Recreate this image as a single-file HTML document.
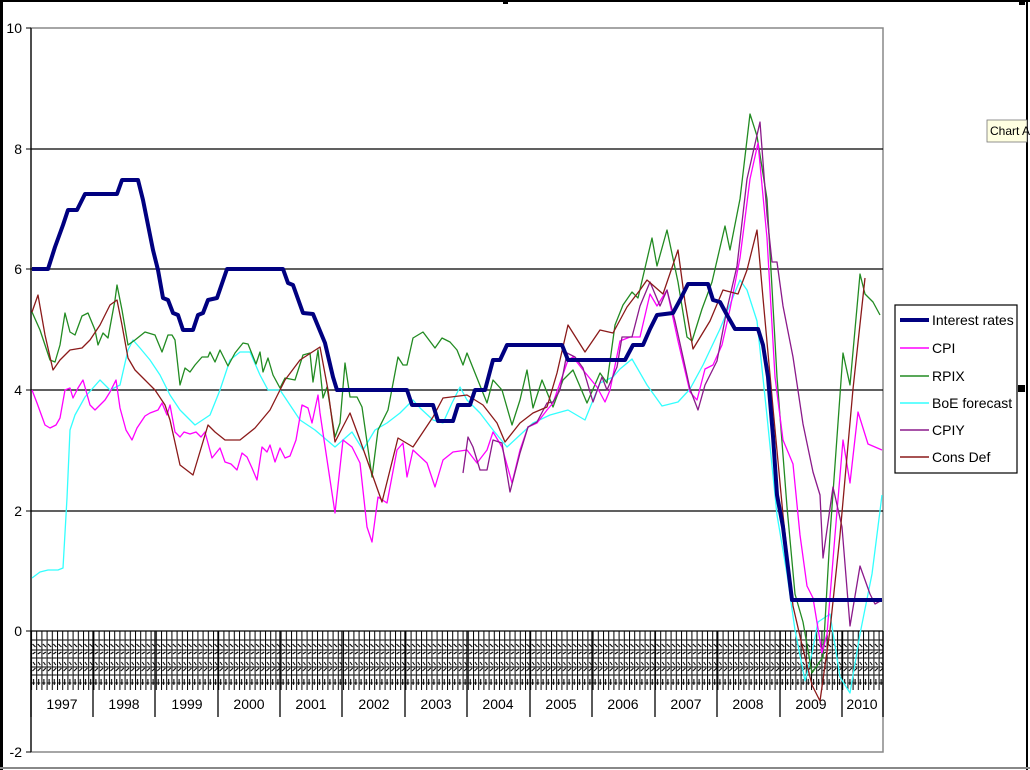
<!DOCTYPE html>
<html><head><meta charset="utf-8"><style>
html,body{margin:0;padding:0;background:#fff}
svg{display:block;font-family:"Liberation Sans",Arial,sans-serif}
</style></head><body>
<svg width="1030" height="770" viewBox="0 0 1030 770" xmlns="http://www.w3.org/2000/svg">
<defs>
<pattern id="tk" x="31" y="0" width="5.2" height="770" patternUnits="userSpaceOnUse">
<line x1="0.5" y1="631" x2="0.5" y2="690" stroke="#000" stroke-width="1"/>
<path d="M1 640 h4 M1.5 644 l3 3 M1 650 h4 M1.5 654 l3 -2 M1 658 h4 M2 662 l2 3 M1 667 h4 M1.5 671 l3 -3 M1 675 h4 M2.5 679 v6 M1 683 h3" stroke="#000" stroke-width="1.1"/>
</pattern>
</defs>
<rect width="1030" height="770" fill="#fff"/>
<rect x="0" y="0" width="1030" height="2" fill="#000"/>
<rect x="0" y="0" width="3" height="770" fill="#000"/>
<rect x="1026" y="0" width="2" height="770" fill="#000"/>
<rect x="0" y="767" width="1030" height="2" fill="#888"/>
<rect x="503" y="0" width="5" height="4" fill="#000"/>
<rect x="1019" y="0" width="6" height="5" fill="#000"/>
<rect x="1018" y="385" width="7" height="7" fill="#000"/>
<rect x="31" y="28" width="852" height="724" fill="none" stroke="#888" stroke-width="1.5"/>
<g stroke="#000" stroke-width="1.2">
<line x1="31" y1="149" x2="883" y2="149"/>
<line x1="31" y1="269" x2="883" y2="269"/>
<line x1="31" y1="390" x2="883" y2="390"/>
<line x1="31" y1="511" x2="883" y2="511"/>
<line x1="31" y1="631" x2="883" y2="631"/>
<line x1="31" y1="28" x2="31" y2="752"/>
</g>
<g stroke="#000" stroke-width="1">
<line x1="26" y1="28" x2="31" y2="28"/><line x1="26" y1="149" x2="31" y2="149"/><line x1="26" y1="269" x2="31" y2="269"/>
<line x1="26" y1="390" x2="31" y2="390"/><line x1="26" y1="511" x2="31" y2="511"/><line x1="26" y1="631" x2="31" y2="631"/><line x1="26" y1="752" x2="31" y2="752"/>
</g>
<g font-size="14" text-anchor="end" fill="#000">
<text x="22" y="33">10</text><text x="22" y="154">8</text><text x="22" y="274">6</text>
<text x="22" y="395">4</text><text x="22" y="516">2</text><text x="22" y="636">0</text><text x="22" y="757">-2</text>
</g>
<rect x="31" y="631" width="852" height="60" fill="url(#tk)"/>
<g stroke="#000" stroke-width="1.3">
<line x1="31" y1="631" x2="31" y2="717"/><line x1="93" y1="631" x2="93" y2="717"/><line x1="155" y1="631" x2="155" y2="717"/>
<line x1="218" y1="631" x2="218" y2="717"/><line x1="280" y1="631" x2="280" y2="717"/><line x1="342" y1="631" x2="342" y2="717"/>
<line x1="405" y1="631" x2="405" y2="717"/><line x1="467" y1="631" x2="467" y2="717"/><line x1="530" y1="631" x2="530" y2="717"/>
<line x1="592" y1="631" x2="592" y2="717"/><line x1="655" y1="631" x2="655" y2="717"/><line x1="717" y1="631" x2="717" y2="717"/>
<line x1="780" y1="631" x2="780" y2="717"/><line x1="842" y1="631" x2="842" y2="717"/><line x1="883" y1="631" x2="883" y2="717"/>
</g>
<g font-size="14" text-anchor="middle" fill="#000">
<text x="62" y="709">1997</text><text x="124" y="709">1998</text><text x="187" y="709">1999</text><text x="249" y="709">2000</text>
<text x="311" y="709">2001</text><text x="374" y="709">2002</text><text x="436" y="709">2003</text><text x="498" y="709">2004</text>
<text x="561" y="709">2005</text><text x="623" y="709">2006</text><text x="686" y="709">2007</text><text x="748" y="709">2008</text>
<text x="811" y="709">2009</text><text x="862" y="709">2010</text>
</g>
<g fill="none" stroke-linejoin="round">
<polyline stroke="#33ffff" stroke-width="1.3" points="32,578 40,572 48,570 58,570 63,568 67,498 70,430 75,415 85,397 100,380 110,390 120,385 128,350 133,340 140,348 150,360 160,375 170,395 180,410 195,425 210,415 220,390 230,360 240,352 250,352 260,375 268,390 280,390 290,405 300,420 315,430 335,447 352,432 363,450 375,430 387,423 400,413 413,400 420,408 433,420 443,423 452,403 460,387 467,400 480,413 493,430 507,447 520,435 533,423 550,415 568,410 585,420 600,383 613,377 620,369 632,359 647,385 662,406 678,402 690,389 703,365 720,329 740,280 747,290 757,321 767,416 777,515 787,574 795,630 805,681 812,653 818,622 830,614 840,677 850,693 860,634 872,574 882,495"/>
<polyline stroke="#228b22" stroke-width="1.3" points="32,312 40,330 50,360 55,362 60,345 65,313 70,332 75,335 82,316 88,313 95,330 98,345 103,333 108,338 115,300 117,285 122,310 128,345 135,340 145,332 155,335 162,352 168,335 172,335 175,340 180,385 185,368 190,372 195,365 202,357 208,357 210,352 215,362 220,350 228,366 235,353 243,343 248,344 256,364 260,352 263,372 268,358 273,375 280,388 285,378 295,380 303,355 310,353 313,382 318,350 323,398 327,387 335,437 340,423 345,363 350,397 357,397 362,407 372,477 378,430 388,410 398,357 403,365 407,365 413,338 423,332 435,348 442,338 450,342 457,350 463,365 467,353 477,378 487,403 493,380 502,390 512,425 520,400 527,370 533,408 542,380 553,407 563,380 573,370 587,403 600,373 607,383 615,325 623,305 632,292 638,298 652,238 657,266 667,230 678,282 687,337 692,341 702,309 712,282 725,226 730,250 740,199 750,114 757,136 767,199 777,377 787,507 795,594 803,622 812,673 823,657 830,535 843,353 850,385 860,274 865,294 873,302 880,315"/>
<polyline stroke="#ff00ff" stroke-width="1.3" points="32,390 37,403 45,425 50,428 56,425 60,418 65,390 70,388 73,398 78,388 83,380 90,405 95,410 100,405 105,400 110,392 116,380 120,408 126,430 132,440 137,428 145,416 150,413 158,410 162,403 167,415 170,405 175,432 180,437 184,432 190,434 196,432 201,437 205,432 212,458 220,448 225,462 231,464 237,470 242,453 247,457 252,468 257,480 262,447 267,452 270,445 275,462 280,448 285,458 290,456 296,440 302,405 308,408 312,423 318,395 320,413 335,513 343,440 352,447 360,463 367,527 372,542 378,497 387,503 397,450 403,443 407,477 413,450 427,463 435,487 443,460 453,452 467,450 477,463 487,450 493,432 502,447 512,483 520,450 528,427 537,423 547,410 553,403 560,383 568,360 573,357 583,370 597,387 605,402 610,390 620,341 630,337 640,337 650,294 657,306 667,290 678,341 690,392 697,400 705,369 713,365 722,345 730,309 740,258 750,179 758,143 767,238 775,377 783,440 793,464 800,535 807,586 813,598 822,653 827,634 835,535 843,440 850,483 858,412 868,444 882,450"/>
<polyline stroke="#8b1a8b" stroke-width="1.3" points="463,473 468,437 473,447 480,470 487,470 493,440 502,443 510,492 520,453 528,427 537,422 547,403 553,402 560,390 567,353 575,357 583,368 593,402 602,377 607,390 617,367 622,337 632,337 640,306 650,282 660,306 667,290 675,321 683,357 690,389 698,410 705,385 717,361 727,309 737,266 747,179 760,122 767,215 772,262 777,262 783,306 793,357 803,424 813,472 820,495 823,558 833,487 842,527 850,626 860,566 870,594 875,604 882,600"/>
<polyline stroke="#8b1a1a" stroke-width="1.3" points="32,312 38,295 45,335 53,370 60,360 70,350 82,348 90,340 100,325 110,305 117,300 122,325 128,358 135,370 145,380 155,390 165,405 170,420 180,465 193,475 208,425 215,432 225,440 240,440 255,428 270,410 280,390 285,380 300,360 320,347 328,390 335,442 350,413 360,440 382,502 398,438 413,447 433,417 443,398 467,395 483,405 497,423 505,442 520,423 533,413 547,407 557,373 568,325 585,352 600,330 613,333 627,307 640,290 647,280 663,294 678,250 685,302 693,349 710,321 723,290 738,294 747,270 757,230 763,298 773,408 783,515 793,606 802,645 812,685 820,701 830,630 840,535 853,389 865,278"/>
<polyline stroke="#000080" stroke-width="4" points="32,269 48,269 55,247 63,225 68,210 77,210 85,194 117,194 122,180 138,180 143,200 153,250 158,270 163,298 168,300 173,313 178,315 183,330 193,330 198,315 203,313 208,300 217,298 227,269 283,269 288,283 293,285 303,313 313,314 325,343 333,377 337,390 407,390 412,405 433,405 438,421 453,421 458,405 470,405 475,390 485,390 493,360 500,360 507,345 562,345 568,360 625,360 633,345 643,345 650,329 657,315 673,313 680,300 688,284 708,284 713,300 720,302 727,315 735,329 758,329 763,345 768,377 773,436 777,495 783,527 792,600 882,600"/>
</g>
<rect x="895" y="305" width="122" height="168" fill="#fff" stroke="#000" stroke-width="1.2"/>
<g stroke-width="1.5">
<line x1="900" y1="320" x2="929" y2="320" stroke="#000080" stroke-width="4"/>
<line x1="900" y1="348" x2="929" y2="348" stroke="#ff00ff"/>
<line x1="900" y1="376" x2="929" y2="376" stroke="#228b22"/>
<line x1="900" y1="403" x2="929" y2="403" stroke="#33ffff"/>
<line x1="900" y1="430" x2="929" y2="430" stroke="#8b1a8b"/>
<line x1="900" y1="457" x2="929" y2="457" stroke="#8b1a1a"/>
</g>
<g font-size="14" fill="#000">
<text x="932" y="325">Interest rates</text><text x="932" y="353">CPI</text><text x="932" y="381">RPIX</text>
<text x="932" y="408">BoE forecast</text><text x="932" y="435">CPIY</text><text x="932" y="462">Cons Def</text>
</g>
<rect x="987" y="120" width="40" height="22" fill="#ffffe1" stroke="#777" stroke-width="0.8"/>
<text x="990" y="135" font-size="12" fill="#000">Chart A</text>
</svg>
</body></html>
